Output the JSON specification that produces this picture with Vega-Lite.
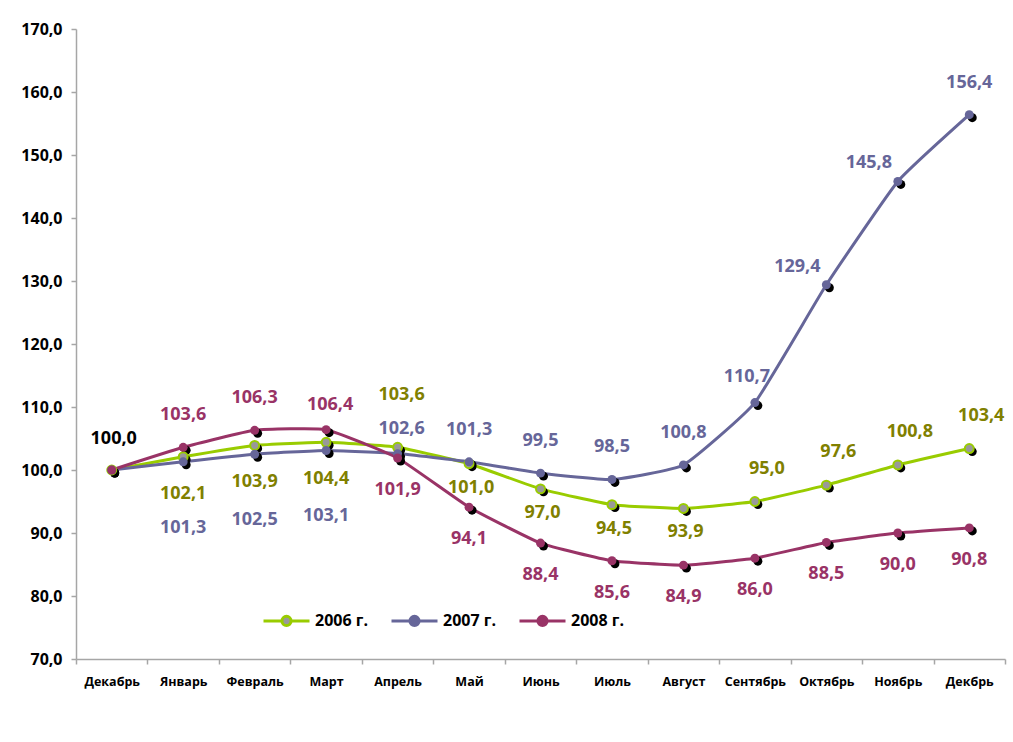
{
  "$schema": "https://vega.github.io/schema/vega-lite/v6.json",
  "width": 929,
  "height": 630,
  "autosize": "none",
  "padding": {"left": 76, "top": 29, "right": 8, "bottom": 83},
  "background": "white",
  "config": {
    "view": {"stroke": null},
    "locale": {"number": {"decimal": ",", "thousands": " ", "grouping": [3], "currency": ["", ""]}},
    "axis": {
      "domainColor": "#A6A6A6", "domainWidth": 1.5, "tickColor": "#A6A6A6", "tickWidth": 1.5, "tickSize": 5,
      "labelFont": "Open Sans", "labelFontWeight": "bold", "labelColor": "#000000", "grid": false, "title": null
    },
    "text": {"font": "Open Sans", "fontWeight": "bold", "fontSize": 18, "baseline": "middle", "align": "center"}
  },
  "data": {
    "values": [
      {"month": "Декабрь", "series": "2006 г.", "value": 100.0},
      {"month": "Январь", "series": "2006 г.", "value": 102.1},
      {"month": "Февраль", "series": "2006 г.", "value": 103.9},
      {"month": "Март", "series": "2006 г.", "value": 104.4},
      {"month": "Апрель", "series": "2006 г.", "value": 103.6},
      {"month": "Май", "series": "2006 г.", "value": 101.0},
      {"month": "Июнь", "series": "2006 г.", "value": 97.0},
      {"month": "Июль", "series": "2006 г.", "value": 94.5},
      {"month": "Август", "series": "2006 г.", "value": 93.9},
      {"month": "Сентябрь", "series": "2006 г.", "value": 95.0},
      {"month": "Октябрь", "series": "2006 г.", "value": 97.6},
      {"month": "Ноябрь", "series": "2006 г.", "value": 100.8},
      {"month": "Декбрь", "series": "2006 г.", "value": 103.4},
      {"month": "Декабрь", "series": "2007 г.", "value": 100.0},
      {"month": "Январь", "series": "2007 г.", "value": 101.3},
      {"month": "Февраль", "series": "2007 г.", "value": 102.5},
      {"month": "Март", "series": "2007 г.", "value": 103.1},
      {"month": "Апрель", "series": "2007 г.", "value": 102.6},
      {"month": "Май", "series": "2007 г.", "value": 101.3},
      {"month": "Июнь", "series": "2007 г.", "value": 99.5},
      {"month": "Июль", "series": "2007 г.", "value": 98.5},
      {"month": "Август", "series": "2007 г.", "value": 100.8},
      {"month": "Сентябрь", "series": "2007 г.", "value": 110.7},
      {"month": "Октябрь", "series": "2007 г.", "value": 129.4},
      {"month": "Ноябрь", "series": "2007 г.", "value": 145.8},
      {"month": "Декбрь", "series": "2007 г.", "value": 156.4},
      {"month": "Декабрь", "series": "2008 г.", "value": 100.0},
      {"month": "Январь", "series": "2008 г.", "value": 103.6},
      {"month": "Февраль", "series": "2008 г.", "value": 106.3},
      {"month": "Март", "series": "2008 г.", "value": 106.4},
      {"month": "Апрель", "series": "2008 г.", "value": 101.9},
      {"month": "Май", "series": "2008 г.", "value": 94.1},
      {"month": "Июнь", "series": "2008 г.", "value": 88.4},
      {"month": "Июль", "series": "2008 г.", "value": 85.6},
      {"month": "Август", "series": "2008 г.", "value": 84.9},
      {"month": "Сентябрь", "series": "2008 г.", "value": 86.0},
      {"month": "Октябрь", "series": "2008 г.", "value": 88.5},
      {"month": "Ноябрь", "series": "2008 г.", "value": 90.0},
      {"month": "Декбрь", "series": "2008 г.", "value": 90.8}
    ]
  },
  "encoding": {
    "x": {
      "field": "month", "type": "ordinal",
      "sort": ["Декабрь", "Январь", "Февраль", "Март", "Апрель", "Май", "Июнь", "Июль", "Август", "Сентябрь", "Октябрь", "Ноябрь", "Декбрь"],
      "scale": {"type": "band", "paddingInner": 0, "paddingOuter": 0},
      "axis": {"labelAngle": 0, "tickBand": "extent", "labelFontSize": 12.5, "labelPadding": 11}
    },
    "y": {
      "field": "value", "type": "quantitative",
      "scale": {"domain": [70, 170], "nice": false, "zero": false},
      "axis": {"values": [70, 80, 90, 100, 110, 120, 130, 140, 150, 160, 170], "format": ".1f", "labelFontSize": 16, "labelPadding": 9}
    }
  },
  "layer": [
    {
      "mark": {"type": "line", "strokeWidth": 3, "interpolate": "cardinal", "tension": 0.6},
      "encoding": {
        "stroke": {
          "field": "series", "type": "nominal",
          "scale": {"domain": ["2006 г.", "2007 г.", "2008 г."], "range": ["#99CC00", "#666699", "#993366"]},
          "legend": {
            "title": null, "orient": "none", "direction": "horizontal", "legendX": 186, "legendY": 567,
            "symbolType": "M-1,0L-0.2,0M0.2,0L1,0M-0.2,0A0.2,0.2,0,1,1,0.2,0A0.2,0.2,0,1,1,-0.2,0",
            "symbolSize": 2116, "symbolStrokeWidth": 3, "labelFont": "Open Sans", "labelFontWeight": "bold",
            "labelFontSize": 16, "labelColor": "#000000", "labelOffset": 4, "columnPadding": 17, "padding": 0,
            "encode": {"symbols": {"update": {"fill": {"signal": "datum.value === '2006 г.' ? '#999999' : scale('stroke', datum.value)"}}}}
          }
        }
      }
    },
    {
      "mark": {"type": "point", "filled": true, "size": 80, "xOffset": 3, "yOffset": 3, "opacity": 1},
      "encoding": {"color": {"value": "#000000"}}
    },
    {
      "mark": {"type": "point", "filled": true, "size": 80, "opacity": 1, "strokeWidth": 2},
      "encoding": {
        "fill": {
          "field": "series", "type": "nominal",
          "scale": {"domain": ["2006 г.", "2007 г.", "2008 г."], "range": ["#999999", "#666699", "#993366"]},
          "legend": null
        },
        "stroke": {"condition": {"test": "datum.series === '2006 г.'", "value": "#99CC00"}, "value": "transparent"}
      }
    },
    {
      "transform": [{"filter": "datum.series === '2006 г.' && datum.month === 'Декабрь'"}],
      "mark": {"type": "text", "dy": -31, "dx": 2, "color": "#000000"},
      "encoding": {"text": {"field": "value", "type": "quantitative", "format": ".1f"}}
    },
    {
      "transform": [{"filter": "(datum.series === '2008 г.' && indexof(['Январь','Февраль'], datum.month) >= 0) || (datum.series === '2007 г.' && indexof(['Май','Июнь','Июль','Август','Декбрь'], datum.month) >= 0)"}],
      "mark": {"type": "text", "dy": -32},
      "encoding": {
        "text": {"field": "value", "type": "quantitative", "format": ".1f"},
        "color": {"field": "series", "type": "nominal", "scale": {"domain": ["2006 г.", "2007 г.", "2008 г."], "range": ["#808000", "#666699", "#993366"]}, "legend": null}
      }
    },
    {
      "transform": [{"filter": "(datum.series === '2008 г.' && datum.month === 'Март') || (datum.series === '2007 г.' && datum.month === 'Апрель')"}],
      "mark": {"type": "text", "dy": -25, "dx": 4},
      "encoding": {
        "text": {"field": "value", "type": "quantitative", "format": ".1f"},
        "color": {"field": "series", "type": "nominal", "legend": null}
      }
    },
    {
      "transform": [{"filter": "datum.series === '2008 г.' && indexof(['Декабрь','Январь','Февраль','Март'], datum.month) < 0"}],
      "mark": {"type": "text", "dy": 32},
      "encoding": {
        "text": {"field": "value", "type": "quantitative", "format": ".1f"},
        "color": {"field": "series", "type": "nominal", "legend": null}
      }
    },
    {
      "transform": [{"filter": "datum.series === '2007 г.' && indexof(['Январь','Февраль','Март'], datum.month) >= 0"}],
      "mark": {"type": "text", "dy": 66},
      "encoding": {
        "text": {"field": "value", "type": "quantitative", "format": ".1f"},
        "color": {"field": "series", "type": "nominal", "legend": null}
      }
    },
    {
      "transform": [{"filter": "datum.series === '2006 г.' && indexof(['Январь','Февраль','Март'], datum.month) >= 0"}],
      "mark": {"type": "text", "dy": 37},
      "encoding": {
        "text": {"field": "value", "type": "quantitative", "format": ".1f"},
        "color": {"field": "series", "type": "nominal", "legend": null}
      }
    },
    {
      "transform": [{"filter": "datum.series === '2006 г.' && indexof(['Май','Июнь','Июль','Август'], datum.month) >= 0"}],
      "mark": {"type": "text", "dy": 24, "dx": 2},
      "encoding": {
        "text": {"field": "value", "type": "quantitative", "format": ".1f"},
        "color": {"field": "series", "type": "nominal", "legend": null}
      }
    },
    {
      "transform": [{"filter": "datum.series === '2006 г.' && datum.month === 'Апрель'"}],
      "mark": {"type": "text", "dy": -52, "dx": 4},
      "encoding": {
        "text": {"field": "value", "type": "quantitative", "format": ".1f"},
        "color": {"field": "series", "type": "nominal", "legend": null}
      }
    },
    {
      "transform": [{"filter": "datum.series === '2006 г.' && indexof(['Сентябрь','Октябрь','Ноябрь','Декбрь'], datum.month) >= 0"}],
      "mark": {"type": "text", "dy": -33, "dx": 12},
      "encoding": {
        "text": {"field": "value", "type": "quantitative", "format": ".1f"},
        "color": {"field": "series", "type": "nominal", "legend": null}
      }
    },
    {
      "transform": [{"filter": "datum.series === '2007 г.' && datum.month === 'Сентябрь'"}],
      "mark": {"type": "text", "dy": -26, "dx": -8},
      "encoding": {
        "text": {"field": "value", "type": "quantitative", "format": ".1f"},
        "color": {"field": "series", "type": "nominal", "legend": null}
      }
    },
    {
      "transform": [{"filter": "datum.series === '2007 г.' && indexof(['Октябрь','Ноябрь'], datum.month) >= 0"}],
      "mark": {"type": "text", "dy": -18, "dx": -29},
      "encoding": {
        "text": {"field": "value", "type": "quantitative", "format": ".1f"},
        "color": {"field": "series", "type": "nominal", "legend": null}
      }
    }
  ]
}
